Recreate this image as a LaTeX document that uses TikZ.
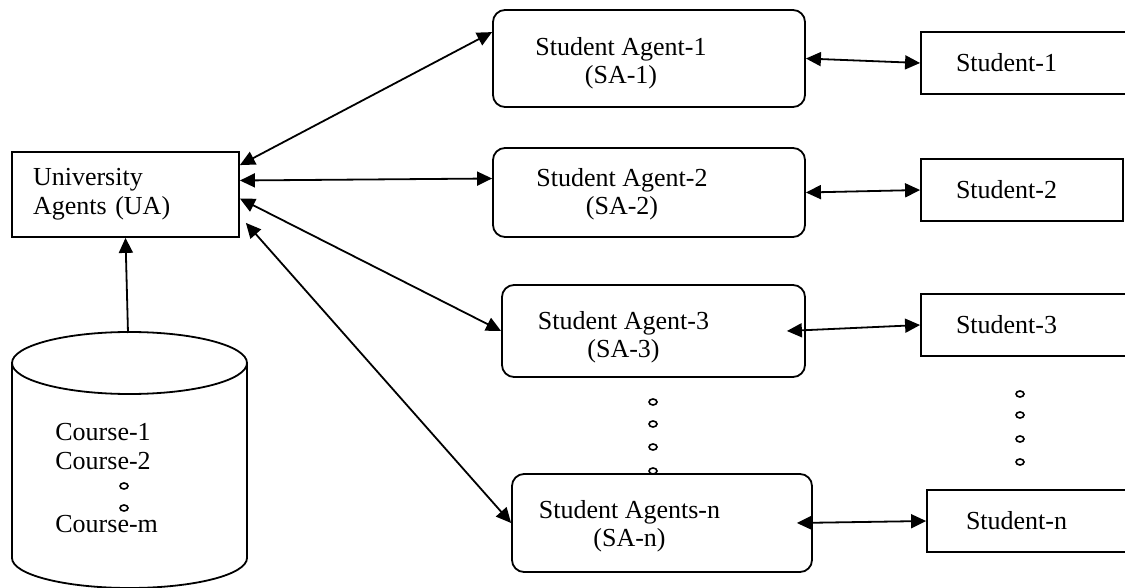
\documentclass[tikz,border=0pt]{standalone}
\usepackage{fontspec}
\setmainfont{Liberation Serif}
\usetikzlibrary{arrows.meta,positioning,calc}
\tikzstyle{base} = [line width=0.9pt]
\tikzstyle{txt} = [font=\fontsize{13}{14}\selectfont, inner sep=0pt]
\tikzstyle{uabox} = [draw, base, fill=white, minimum height=42.5pt, inner xsep=10.5pt, text width=92.5pt, align=left, font=\fontsize{13}{14.5}\selectfont]
\tikzstyle{sabox} = [draw, base, fill=white, rounded corners=6pt]
\tikzstyle{stbox} = [draw, base, fill=white, minimum height=31pt, inner xsep=17.5pt, text width=72pt, align=left, font=\fontsize{13}{14}\selectfont]
\tikzstyle{link} = [base, {Triangle[length=7.5pt,width=7pt]}-{Triangle[length=7.5pt,width=7pt]}]
\tikzstyle{dot} = [line width=0.8pt]

\begin{document}
\begin{tikzpicture}[x=0.5pt,y=-0.5pt]
    \useasboundingbox (0,0) rectangle (1125,588);
    % course database
    \draw[base] (129.5,363) ellipse [x radius=117.5, y radius=31];
    \draw[base] (12,363) -- (12,558) arc[start angle=180, end angle=0, x radius=117.5, y radius=30] -- (247,363);
    \coordinate (db) at (128,333);
    \node[txt, anchor=base west] (c1) at (55,440) {Course-1};
    \node[txt, anchor=base west] (c2) at (55,469) {Course-2};
    \node[txt, anchor=base west] (cm) at (55,532) {Course-m};
    \foreach \y in {486,508}{
        \draw[dot] (124,\y) ellipse [x radius=4, y radius=3];
    }
    % the dots between the agents and the students
    \foreach \y in {402,424,447,471}{
        \draw[dot] (653,\y) ellipse [x radius=4, y radius=3];
    }
    \foreach \y in {394,415,439,462}{
        \draw[dot] (1020,\y) ellipse [x radius=4, y radius=3];
    }
    % agents
    \node[uabox] (ua) at (125.5,194.5) {University Agents (UA)};
    \node[sabox, minimum width=156pt, minimum height=48.5pt] (sa1) at (649,58.5) {};
    \node[sabox, minimum width=156pt, minimum height=44.5pt] (sa2) at (649,192.5) {};
    \node[sabox, minimum width=151.5pt, minimum height=46pt] (sa3) at (653.5,331) {};
    \node[sabox, minimum width=150pt, minimum height=49pt] (san) at (662,523) {};
    \node[txt, align=center] (sa1t) at (621,63) {Student Agent-1\\(SA-1)};
    \node[txt, align=center] (sa2t) at (622,194) {Student Agent-2\\(SA-2)};
    \node[txt, align=center] (sa3t) at (623.5,337) {Student Agent-3\\(SA-3)};
    \node[txt, align=center] (sant) at (629.5,526) {Student Agents-n\\(SA-n)};
    % students
    \node[stbox] (st1) at (1028,63) {Student-1};
    \node[stbox, text width=66pt] (st2) at (1022,190) {Student-2};
    \node[stbox] (st3) at (1028,325) {Student-3};
    \node[stbox, inner xsep=19.5pt, text width=65pt] (stn) at (1031,521) {Student-n};
    % links
    \draw[base, -{Triangle[length=7.5pt,width=7pt]}] (db) -- (ua.south);
    \draw[link] ([yshift=-7pt]ua.north east) -- ([yshift=-11.5pt]sa1.north west);
    \draw[link] ([yshift=7pt]ua.east) -- ([yshift=7pt]sa2.west);
    \draw[link] ([yshift=-2pt]ua.east) -- (sa3.west);
    \draw[link] ([shift={(3pt,7.5pt)}]ua.south east) -- (san.west);
    \draw[link] (sa1.east) -- (st1.west);
    \draw[link] (sa2.east) -- (st2.west);
    \draw[link] ([xshift=-9.5pt]sa3.east) -- (st3.west);
    \draw[link] ([xshift=-8pt]san.east) -- (stn.west);
\end{tikzpicture}
\end{document}
